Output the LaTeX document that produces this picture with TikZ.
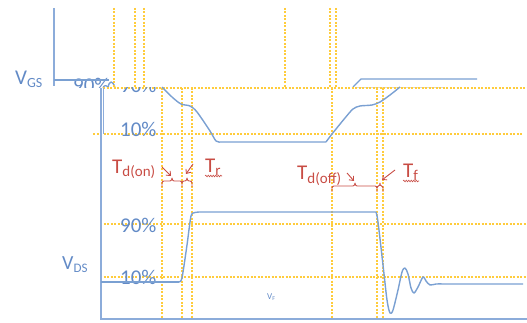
\documentclass[tikz,border=0pt]{standalone}
\usepackage{fontspec}
\setmainfont{Carlito}
\usetikzlibrary{arrows.meta,decorations.pathmorphing}
\definecolor{wave}{RGB}{122,160,210}
\definecolor{axisc}{RGB}{140,172,218}
\definecolor{lbl}{RGB}{98,138,198}
\definecolor{goldc}{RGB}{255,204,60}
\definecolor{redc}{RGB}{200,76,68}
\newcommand{\mysub}[2][13]{\raisebox{-3pt}{\fontsize{#1}{#1}\selectfont #2}}
\begin{document}
\begin{tikzpicture}[x=1pt,y=-1pt,
  guide/.style={goldc, line width=1.1pt, dash pattern=on 2pt off 1.5pt},
  wavel/.style={wave, line width=1.4pt, line join=round},
  axisl/.style={axisc, line width=2pt},
  pct/.style={lbl, font=\fontsize{21}{21}\selectfont, anchor=base west, inner sep=0pt},
  redlbl/.style={redc, font=\fontsize{21}{21}\selectfont, anchor=base west, inner sep=0pt},
  ann/.style={redc, line width=0.9pt, line join=round},
  annarrow/.style={redc, line width=0.9pt, -{Straight Barb[length=3.5pt,width=6pt]}},
  squig/.style={redc, line width=0.6pt, decorate, decoration={snake, amplitude=0.8pt, segment length=2.5pt}}]
\useasboundingbox (0,0) rectangle (527,323);

% ---------- top (clipped) graph ----------
\begin{scope}
\clip (0,0) rectangle (527,87.5);
\node[pct] (vgs) at (15,85) {V\mysub[14]{GS}};
\node[pct] (top90) at (73,93) {90\%};
\draw[axisl, line width=1.6pt] (54,8) -- (54,86);
\draw[wavel] (54,80) -- (109,80);
\draw[wavel] (108,88) .. controls (109,80) and (113,80) .. (115,88);
\end{scope}
\foreach \x in {114,135,144,285,330,336} \draw[guide] (\x,8) -- (\x,88);
\draw[black!15, line width=1pt] (355,87.3) -- (443,87.3);
\draw[wavel] (353,87) -- (361,79) -- (477,79);

% ---------- lower graph ----------
\foreach \x in {162,182,192,332,377,383} \draw[guide] (\x,88) -- (\x,319);
\draw[guide] (103,88) -- (527,88);
\draw[guide] (93,134) -- (522,134);
\draw[guide] (100,224) -- (527,224);
\draw[guide] (100,277) -- (527,277);

\draw[axisl] (101,88) -- (101,319) -- (527,319);
\draw[axisc, line width=1.2pt] (103.5,88) -- (103.5,134);

\begin{scope}
\clip (100,88) rectangle (527,323);
\node[pct] (bot90) at (120,93) {90\%};
\end{scope}
\node[pct] (g10) at (120,137) {10\%};
\node[pct] (d90) at (120,233) {90\%};
\node[pct] (d10) at (120,284) {10\%};
\node[lbl, font=\fontsize{20}{20}\selectfont, anchor=base west, inner sep=0pt] (vds) at (62,269) {V\mysub[13]{DS}};
\node[lbl, font=\fontsize{9}{9}\selectfont, anchor=base west, inner sep=0pt] (vf) at (267,299) {V\raisebox{-1pt}{\fontsize{6}{6}\selectfont F}};

% VGS falling / rising (lower graph)
\draw[wavel] plot[smooth, tension=0.5] coordinates {(162,87) (172,97) (181,104) (190,106) (197,112) (210,131) (216,141) (221,142)} -- (326,142);
\draw[wavel] plot[smooth, tension=0.5] coordinates {(326,142) (332,134) (345,118) (353,109) (360,106) (372,105) (380,102) (390,95) (400,87)};

% VDS
\draw[wavel] (101,282) -- (179,282);
\draw[wavel] plot[smooth, tension=0.4] coordinates {(179,282) (182,278) (187,245) (191,216) (195,212.5) (200,212)} -- (376,212);
\draw[wavel] plot[smooth, tension=0.5] coordinates {(376,212) (378,222) (383,265) (387,300) (390,313) (393,310) (398,290) (402,272) (405,268) (408,274) (411,288) (414,293) (418,287) (423,277) (426,281) (430,285) (436,284) (445,284)} -- (523,284);

% ---------- red annotations ----------
\node[redlbl] (tdon) at (112,174) {T\mysub[15]{d(on)}};
\node[redlbl] (tr) at (205,173) {T\mysub[15]{r}};
\node[redlbl] (tdoff) at (297,180) {T\mysub[15]{d(off)}};
\node[redlbl] (tf) at (403,178) {T\mysub[15]{f}};
\draw[squig] (205,176) -- (222,176);
\draw[squig] (403,181) -- (419,181);

\coordinate (b1) at (172,178);
\coordinate (b2) at (187,178);
\coordinate (b3) at (355,183);
\coordinate (b4) at (380,183);
\draw[ann] (162,187) -- (162,183) to[out=90,in=180] (164,181) -- (170,181) to[out=0,in=-90] (b1) to[out=-90,in=180] (174,181) -- (180,181) to[out=0,in=90] (182,183) -- (182,187);
\draw[ann] (182,183) to[out=90,in=180] (184,181) -- (185,181) to[out=0,in=-90] (b2) to[out=-90,in=180] (189,181) -- (190,181) to[out=0,in=90] (192,183) -- (192,187);
\draw[ann] (332,192) -- (332,188) to[out=90,in=180] (334,186) -- (353,186) to[out=0,in=-90] (b3) to[out=-90,in=180] (357,186) -- (375,186) to[out=0,in=90] (377,188) -- (377,192);
\draw[ann] (377,188) to[out=90,in=180] (378.5,186) to[out=0,in=-90] (b4) to[out=-90,in=180] (381.5,186) to[out=0,in=90] (383,188) -- (383,192);

\coordinate (a1) at (162,167);
\coordinate (a2) at (193,164);
\coordinate (a3) at (347,173);
\coordinate (a4) at (395,170);
\draw[annarrow] (a1) -- (171,176);
\draw[annarrow] (a2) -- (186,174);
\draw[annarrow] (a3) -- (354,181);
\draw[annarrow] (a4) -- (382,180);
\end{tikzpicture}
\end{document}
